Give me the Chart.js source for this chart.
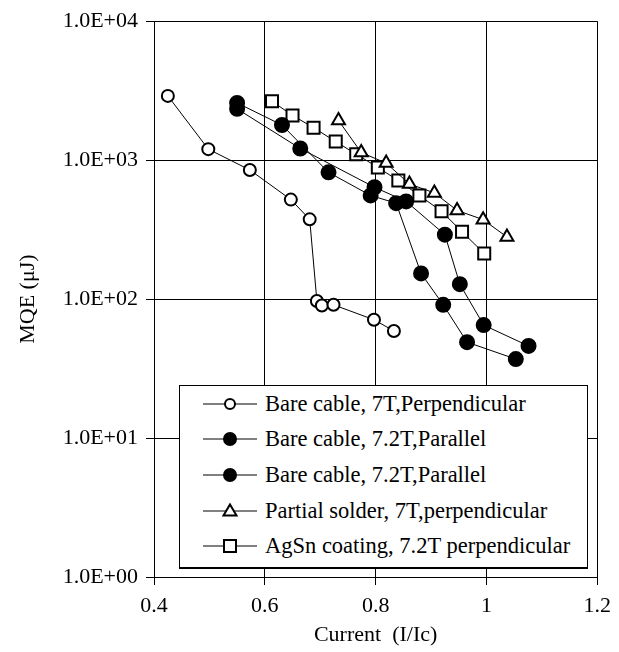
<!DOCTYPE html>
<html>
<head>
<meta charset="utf-8">
<script src="https://cdn.jsdelivr.net/npm/chart.js@4"></script>
<style>
  body { margin: 0; background: #fff; }
  #wrap { position: relative; width: 619px; height: 652px; }
  #legend {
    position: absolute; left: 179px; top: 385px; width: 407px; height: 181px;
    background: #fff; border: 1px solid #000; border-bottom-width: 2px;
    font-family: 'Liberation Serif', 'Times New Roman', serif; font-size: 22.5px; color: #000;
  }
  #legend .row { display: flex; align-items: center; height: 35.6px; }
  #legend svg { margin-left: 23px; margin-right: 8px; flex: none; }
</style>
</head>
<body>
<div id="wrap">
  <canvas id="chart" width="619" height="652"></canvas>
  <div id="legend"></div>
</div>
<script>
// values: current (I/Ic) and MQE (uJ)
const bare7X = [0.425, 0.498, 0.573, 0.647, 0.681, 0.694, 0.703, 0.724, 0.797, 0.833];
const bare7Y = [2900, 1200, 850, 520, 375, 97, 90, 91, 71, 59];

const parAX = [0.55, 0.631, 0.715, 0.791, 0.837, 0.882, 0.922, 0.965, 1.053];
const parAY = [2580, 1790, 817, 557, 490, 153, 91, 49, 37];

const parBX = [0.55, 0.664, 0.798, 0.855, 0.925, 0.952, 0.995, 1.076];
const parBY = [2340, 1213, 638, 505, 291, 128, 65, 46];

const solderX = [0.733, 0.774, 0.819, 0.861, 0.906, 0.947, 0.994, 1.037];
const solderY = [1930, 1135, 952, 674, 581, 435, 373, 280];

const agsnX = [0.613, 0.650, 0.688, 0.728, 0.765, 0.804, 0.841, 0.879, 0.919, 0.956, 0.996];
const agsnY = [2656, 2097, 1713, 1360, 1104, 887, 713, 557, 428, 305, 213];

const seriesNames = [
  'Bare cable, 7T,Perpendicular',
  'Bare cable, 7.2T,Parallel',
  'Bare cable, 7.2T,Parallel',
  'Partial solder, 7T,perpendicular',
  'AgSn coating, 7.2T perpendicular'
];

const xTickValues = [0.4, 0.6, 0.8, 1.0, 1.2];
const xTickLabels = ['0.4', '0.6', '0.8', '1', '1.2'];
const yTickValues = [1, 10, 100, 1000, 10000];
const yTickLabels = ['1.0E+00', '1.0E+01', '1.0E+02', '1.0E+03', '1.0E+04'];

const FONT = "'Liberation Serif', 'Times New Roman', serif";

function pts(xs, ys) {
  return xs.map((x, i) => ({ x: x, y: ys[i] }));
}

// marker look per series (style, fill, radius)
const markers = [
  { style: 'circle', fill: '#fff', r: 6 },
  { style: 'circle', fill: '#000', r: 7 },
  { style: 'circle', fill: '#000', r: 7 },
  { style: 'triangle', fill: '#fff', r: 7.5 },
  { style: 'rect', fill: '#fff', r: 8.5 }
];

const seriesData = [
  pts(bare7X, bare7Y),
  pts(parAX, parAY),
  pts(parBX, parBY),
  pts(solderX, solderY),
  pts(agsnX, agsnY)
];

const datasets = seriesData.map((d, i) => ({
  label: seriesNames[i],
  data: d,
  showLine: true,
  borderColor: '#000',
  borderWidth: 1,
  pointStyle: markers[i].style,
  pointRadius: markers[i].r,
  pointBackgroundColor: markers[i].fill,
  pointBorderColor: '#000',
  pointBorderWidth: 2
}));

new Chart(document.getElementById('chart'), {
  type: 'scatter',
  data: { datasets: datasets },
  options: {
    responsive: false,
    animation: false,
    layout: { padding: { top: 18, right: 18, left: 0, bottom: 0 } },
    plugins: {
      legend: { display: false },
      tooltip: { enabled: false }
    },
    scales: {
      x: {
        type: 'linear',
        min: 0.4,
        max: 1.2,
        afterBuildTicks: s => { s.ticks = xTickValues.map(v => ({ value: v })); },
        afterFit: s => { s.height = 75; },
        ticks: {
          color: '#000',
          padding: 8,
          font: { family: FONT, size: 22 },
          callback: (v, i) => xTickLabels[i]
        },
        grid: { color: '#000', lineWidth: 1, tickLength: 8 },
        border: { color: '#000', width: 1 },
        title: {
          display: true,
          text: 'Current  (I/Ic)',
          color: '#000',
          font: { family: FONT, size: 22 },
          padding: { top: 0, bottom: 4 }
        }
      },
      y: {
        type: 'logarithmic',
        min: 1,
        max: 10000,
        afterBuildTicks: s => { s.ticks = yTickValues.map(v => ({ value: v })); },
        afterFit: s => { s.width = 154; },
        ticks: {
          color: '#000',
          padding: 8,
          font: { family: FONT, size: 22 },
          callback: (v, i) => yTickLabels[i]
        },
        grid: { color: '#000', lineWidth: 1, tickLength: 8 },
        border: { color: '#000', width: 1 },
        title: {
          display: true,
          text: 'MQE (μJ)',
          color: '#000',
          font: { family: FONT, size: 22 },
          padding: { top: 15, bottom: 0 }
        }
      }
    }
  }
});

// legend box drawn as html over the plot
const legendEl = document.getElementById('legend');
seriesNames.forEach((name, i) => {
  const m = markers[i];
  let shape;
  if (m.style === 'circle') {
    shape = `<circle cx="27" cy="10" r="${m.r - 1}" fill="${m.fill}" stroke="#000" stroke-width="2"/>`;
  } else if (m.style === 'triangle') {
    shape = `<polygon points="27,3.5 33.5,14.5 20.5,14.5" fill="#fff" stroke="#000" stroke-width="2"/>`;
  } else {
    shape = `<rect x="21" y="4" width="12" height="12" fill="#fff" stroke="#000" stroke-width="2"/>`;
  }
  const row = document.createElement('div');
  row.className = 'row';
  row.innerHTML = `<svg width="54" height="20"><line x1="0" y1="10" x2="54" y2="10" stroke="#000" stroke-width="1"/>${shape}</svg><span>${name}</span>`;
  legendEl.appendChild(row);
});
</script>
</body>
</html>
